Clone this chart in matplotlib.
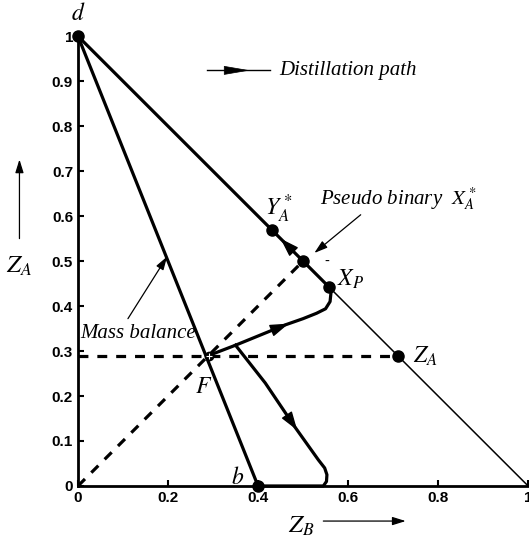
import numpy as np
import matplotlib.pyplot as plt

plt.rcParams['mathtext.fontset'] = 'stix'
plt.rcParams['font.family'] = 'DejaVu Sans'

# Key compositions (Z_B, Z_A)
d_pt = (0.0, 1.0)
b_pt = (0.40, 0.0)
F_pt = (0.29, 0.29)
ZA_pt = (0.71, 0.29)
XP_pt = (0.558, 0.442)
YA_pt = (0.43, 0.57)
XA_pt = (0.50, 0.50)

# Distillation paths starting from the feed
up_x = [0.29, 0.35, 0.416, 0.46, 0.50, 0.53, 0.55, 0.56, 0.562, 0.558]
up_y = [0.29, 0.313, 0.34, 0.358, 0.372, 0.384, 0.394, 0.41, 0.43, 0.442]
low_x = [0.35, 0.416, 0.482, 0.534, 0.548, 0.553, 0.552, 0.545, 0.40]
low_y = [0.313, 0.229, 0.131, 0.058, 0.04, 0.025, 0.01, 0.0, 0.0]

xticks = [0, 0.2, 0.4, 0.6, 0.8, 1]
xticklabels = ['0', '0.2', '0.4', '0.6', '0.8', '1']
yticks = [0, 0.1, 0.2, 0.3, 0.4, 0.5, 0.6, 0.7, 0.8, 0.9, 1]
yticklabels = ['0', '0.1', '0.2', '0.3', '0.4', '0.5', '0.6', '0.7', '0.8', '0.9', '1']

fig = plt.figure(figsize=(5.29, 5.38), dpi=100)
ax = fig.add_axes([0.1474, 0.0967, 0.851, 0.836])
ax.set_xlim(0, 1)
ax.set_ylim(0, 1)
for s in ['top', 'right']:
    ax.spines[s].set_visible(False)
ax.spines['left'].set_linewidth(2)
ax.spines['bottom'].set_linewidth(2)
ax.set_xticks(xticks)
ax.set_xticklabels(xticklabels, fontweight='bold', fontsize=11, family='Liberation Sans')
ax.set_yticks(yticks)
ax.set_yticklabels(yticklabels, fontweight='bold', fontsize=11, family='Liberation Sans')
ax.tick_params(direction='in', length=4, width=1.5)

lw = 2.3
# triangle edge and lines
ax.plot([0, 1], [1, 0], color='k', lw=1.1, clip_on=False)
ax.plot([d_pt[0], XP_pt[0]], [d_pt[1], XP_pt[1]], color='k', lw=lw)
ax.plot([d_pt[0], b_pt[0]], [d_pt[1], b_pt[1]], color='k', lw=lw, clip_on=False)

# dashed construction lines
ax.plot([0, XA_pt[0]], [0, XA_pt[1]], color='k', lw=2.3, ls=(0, (3.1, 2.8)))
ax.plot([0, ZA_pt[0]], [F_pt[1], ZA_pt[1]], color='k', lw=2.3, ls=(0, (3.1, 2.8)))

# paths
ax.plot(up_x, up_y, color='k', lw=lw)
ax.plot(low_x, low_y, color='k', lw=lw, clip_on=False)


def arrow_on(x0, y0, x1, y1):
    ax.annotate('', xy=(x1, y1), xytext=(x0, y0),
                arrowprops=dict(arrowstyle='-|>,head_length=1.15,head_width=0.38',
                                color='k', lw=1, shrinkA=0, shrinkB=0))


arrow_on(up_x[2], up_y[2], 0.468, 0.361)
arrow_on(low_x[1], low_y[1], 0.487, 0.124)
arrow_on(XP_pt[0], XP_pt[1], 0.450, 0.550)

# points
for p in [d_pt, b_pt, ZA_pt, XP_pt, YA_pt, XA_pt]:
    ax.plot(p[0], p[1], 'o', color='k', ms=8, clip_on=False, zorder=5)
ax.plot(F_pt[0], F_pt[1], 'o', color='k', ms=6, zorder=5)
ax.plot(F_pt[0], F_pt[1], '+', color='w', ms=5, mew=0.8, zorder=6)

tk = dict(fontsize=15, fontstyle='italic', family='Liberation Serif')
ax.text(0.0, 1.025, '$d$', ha='center', va='bottom', fontsize=17, clip_on=False)
ax.text(0.355, 0.02, '$b$', ha='center', va='center', fontsize=17)
ax.text(0.278, 0.222, '$F$', ha='center', va='center', fontsize=17)
ax.text(0.745, 0.29, '$Z_A$', ha='left', va='center', fontsize=17)
ax.text(0.575, 0.46, '$X_P$', ha='left', va='center', fontsize=17)
ax.text(0.415, 0.615, '$Y_A^*$', ha='left', va='center', fontsize=17)
ax.text(0.553, 0.498, '-', ha='center', va='center', fontsize=10)

# legend arrow
ax.plot([0.287, 0.427], [0.924, 0.924], color='k', lw=1)
ax.annotate('', xy=(0.382, 0.924), xytext=(0.33, 0.924),
            arrowprops=dict(arrowstyle='-|>,head_length=1.7,head_width=0.29',
                            color='k', lw=0.5, shrinkA=0, shrinkB=0))
ax.text(0.447, 0.924, 'Distillation path', ha='left', va='center', **tk)

# annotations
ax.text(0.538, 0.64, 'Pseudo binary  $X_A^*$', ha='left', va='center', **tk)
ax.annotate('', xy=(0.525, 0.518), xytext=(0.628, 0.603),
            arrowprops=dict(arrowstyle='-|>,head_length=0.8,head_width=0.25',
                            color='k', lw=0.9, shrinkA=0, shrinkB=0))
ax.text(0.006, 0.34, 'Mass balance', ha='left', va='center', **tk)
ax.annotate('', xy=(0.198, 0.51), xytext=(0.111, 0.372),
            arrowprops=dict(arrowstyle='-|>,head_length=0.8,head_width=0.25',
                            color='k', lw=0.9, shrinkA=0, shrinkB=0))

# axis labels with arrows
ax.text(-0.13, 0.49, '$Z_A$', ha='center', va='center', fontsize=18, clip_on=False)
ax.annotate('', xy=(-0.13, 0.726), xytext=(-0.13, 0.55),
            arrowprops=dict(arrowstyle='-|>,head_length=0.8,head_width=0.25',
                            color='k', lw=0.9, shrinkA=0, shrinkB=0),
            annotation_clip=False)
ax.text(0.495, -0.088, '$Z_B$', ha='center', va='center', fontsize=18, clip_on=False)
ax.annotate('', xy=(0.728, -0.078), xytext=(0.545, -0.078),
            arrowprops=dict(arrowstyle='-|>,head_length=0.8,head_width=0.25',
                            color='k', lw=0.9, shrinkA=0, shrinkB=0),
            annotation_clip=False)

fig.savefig('out.png', dpi=100)
